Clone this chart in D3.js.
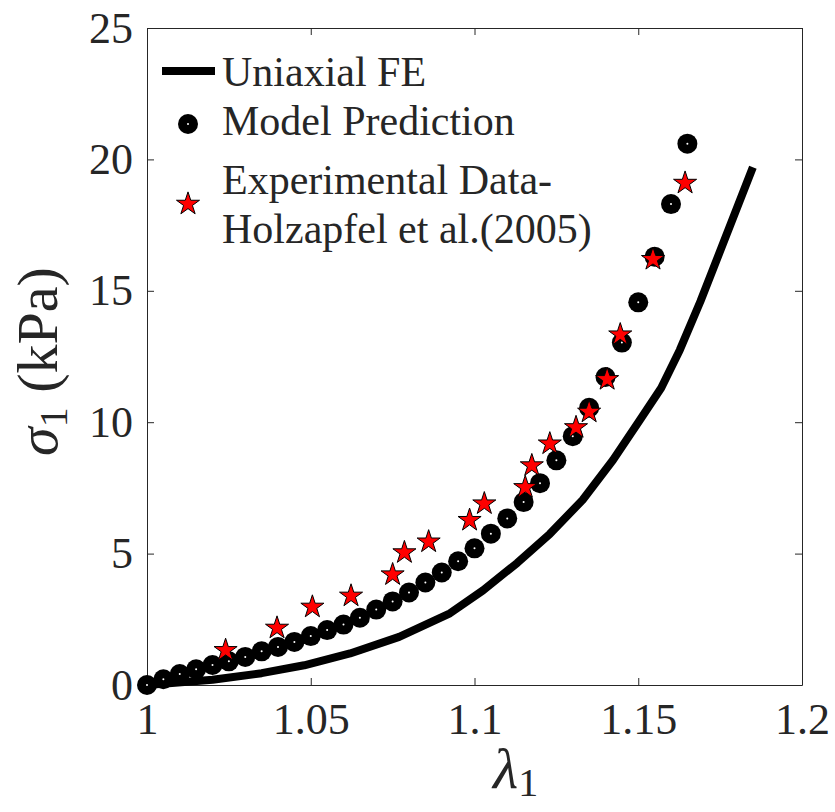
<!DOCTYPE html>
<html>
<head>
<meta charset="utf-8">
<script src="https://d3js.org/d3.v7.min.js"></script>
<style>
  body { margin: 0; background: #fff; }
  svg text { font-family: "Liberation Serif", "Times New Roman", serif; fill: #262626; }
</style>
</head>
<body>
<div id="chart-area"></div>
<script>
// Uniaxial FE curve
var feStretch = [1.000, 1.020, 1.035, 1.048, 1.062, 1.077, 1.0925, 1.1026, 1.113, 1.123, 1.133, 1.1423, 1.1505, 1.157, 1.1627, 1.169, 1.185];
var feStress  = [0, 0.2, 0.45, 0.75, 1.2, 1.83, 2.73, 3.6, 4.64, 5.75, 7.04, 8.56, 10.08, 11.3, 12.75, 14.6, 19.7];

// model prediction (circles)
var modelStretch = [1.000, 1.005, 1.010, 1.015, 1.020, 1.025, 1.030, 1.035, 1.040, 1.045, 1.050, 1.055,
                    1.060, 1.065, 1.070, 1.075, 1.080, 1.085, 1.090, 1.095, 1.100, 1.105, 1.110, 1.115,
                    1.120, 1.125, 1.130, 1.135, 1.140, 1.145, 1.150, 1.155, 1.160, 1.165];
var modelStress  = [0, 0.22, 0.42, 0.6, 0.76, 0.9, 1.07, 1.28, 1.45, 1.64, 1.86, 2.09,
                    2.3, 2.56, 2.87, 3.18, 3.52, 3.9, 4.28, 4.71, 5.2, 5.76, 6.34, 6.96,
                    7.68, 8.55, 9.47, 10.55, 11.72, 13.03, 14.56, 16.3, 18.3, 20.6];

// experimental data, Holzapfel et al. (2005) (stars)
var expStretch = [1.024, 1.0397, 1.0505, 1.0623, 1.075, 1.0786, 1.086, 1.0985, 1.103, 1.1155,
                  1.1175, 1.123, 1.131, 1.135, 1.1405, 1.1445, 1.1545, 1.1643];
var expStress  = [1.32, 2.17, 2.97, 3.39, 4.2, 5.04, 5.45, 6.27, 6.9, 7.52,
                  8.35, 9.18, 9.8, 10.39, 11.63, 13.33, 16.2, 19.1];

var xTicks = [1, 1.05, 1.1, 1.15, 1.2];
var yTicks = [0, 5, 10, 15, 20, 25];
var legendLabels = ["Uniaxial FE", "Model Prediction", "Experimental Data-", "Holzapfel et al.(2005)"];

var margin = { left: 147, right: 33, top: 28, bottom: 127 };
var width = 655;
var height = 657;

var svg = d3.select("#chart-area").append("svg")
    .attr("width", width + margin.left + margin.right)
    .attr("height", height + margin.top + margin.bottom);

var g = svg.append("g")
    .attr("transform", "translate(" + margin.left + ", " + margin.top + ")");

var x = d3.scaleLinear().domain([1, 1.2]).range([0, width]);
var y = d3.scaleLinear().domain([0, 25]).range([height, 0]);

var fmt = function(d) { return String(+d.toFixed(2)); };

// axes (ticks pointing inward, box on)
g.append("g")
    .attr("class", "bottom axis")
    .attr("transform", "translate(0, " + height + ")")
    .call(d3.axisBottom(x).tickValues(xTicks).tickFormat(fmt).tickSizeInner(-7).tickSizeOuter(0).tickPadding(18));
g.append("g")
    .attr("class", "left axis")
    .call(d3.axisLeft(y).tickValues(yTicks).tickFormat(fmt).tickSizeInner(-7).tickSizeOuter(0).tickPadding(14));
g.append("g")
    .attr("class", "top axis")
    .call(d3.axisTop(x).tickValues(xTicks).tickFormat("").tickSizeInner(-7).tickSizeOuter(0));
g.append("g")
    .attr("class", "right axis")
    .attr("transform", "translate(" + width + ", 0)")
    .call(d3.axisRight(y).tickValues(yTicks).tickFormat("").tickSizeInner(-7).tickSizeOuter(0));

g.selectAll(".axis path, .axis line")
    .attr("stroke", "#262626")
    .attr("stroke-width", 1);
g.selectAll(".axis text")
    .attr("font-size", "44px")
    .attr("fill", "#262626")
    .style("font-family", "'Liberation Serif', serif");

// X label
var xl = g.append("text")
    .attr("x", 346)
    .attr("y", height + 103)
    .attr("font-size", "58px")
    .attr("text-anchor", "start");
xl.append("tspan").attr("font-style", "italic").text("λ");
xl.append("tspan").attr("font-size", "40px").attr("dy", 8).text("1");

// Y label
var yl = g.append("text")
    .attr("transform", "translate(-90, " + (height / 2 + 5) + ") rotate(-90)")
    .attr("font-size", "58px")
    .attr("text-anchor", "middle");
yl.append("tspan").attr("font-style", "italic").text("σ");
yl.append("tspan").attr("font-size", "40px").attr("dy", 10).text("1");
yl.append("tspan").attr("dy", -10).text(" (kPa)");

// FE line
var line = d3.line()
    .x(function(d, i) { return x(feStretch[i]); })
    .y(function(d) { return y(d); });
g.append("path")
    .datum(feStress)
    .attr("d", line)
    .attr("fill", "none")
    .attr("stroke", "black")
    .attr("stroke-width", 8)
    .attr("stroke-linejoin", "round");

// model circles
var circles = g.selectAll("circle.model").data(modelStress);
circles.enter().append("circle")
    .attr("class", "model")
    .attr("cx", function(d, i) { return x(modelStretch[i]); })
    .attr("cy", function(d) { return y(d); })
    .attr("r", 10)
    .attr("fill", "black");
g.selectAll("circle.dot").data(modelStress).enter().append("circle")
    .attr("class", "dot")
    .attr("cx", function(d, i) { return x(modelStretch[i]); })
    .attr("cy", function(d) { return y(d); })
    .attr("r", 1)
    .attr("fill", "white");

// experimental stars
var star = d3.symbol().type(d3.symbolStar).size(165);
g.selectAll("path.exp").data(expStress).enter().append("path")
    .attr("class", "exp")
    .attr("d", star)
    .attr("transform", function(d, i) { return "translate(" + x(expStretch[i]) + "," + y(d) + ")"; })
    .attr("fill", "#ff0000")
    .attr("stroke", "black")
    .attr("stroke-width", 1);

// legend (no box)
var lg = svg.append("g");
lg.append("line")
    .attr("x1", 162).attr("x2", 215)
    .attr("y1", 71).attr("y2", 71)
    .attr("stroke", "black").attr("stroke-width", 8);
lg.append("circle").attr("cx", 188).attr("cy", 124).attr("r", 10).attr("fill", "black");
lg.append("circle").attr("cx", 188).attr("cy", 124).attr("r", 1).attr("fill", "white");
lg.append("path").attr("d", star)
    .attr("transform", "translate(188,204)")
    .attr("fill", "#ff0000").attr("stroke", "black").attr("stroke-width", 1);

var legendY = [86, 135, 194, 243];
lg.selectAll("text").data(legendLabels).enter().append("text")
    .attr("x", 222)
    .attr("y", function(d, i) { return legendY[i]; })
    .attr("font-size", "42px")
    .attr("fill", "#262626")
    .text(function(d) { return d; });
</script>
</body>
</html>
